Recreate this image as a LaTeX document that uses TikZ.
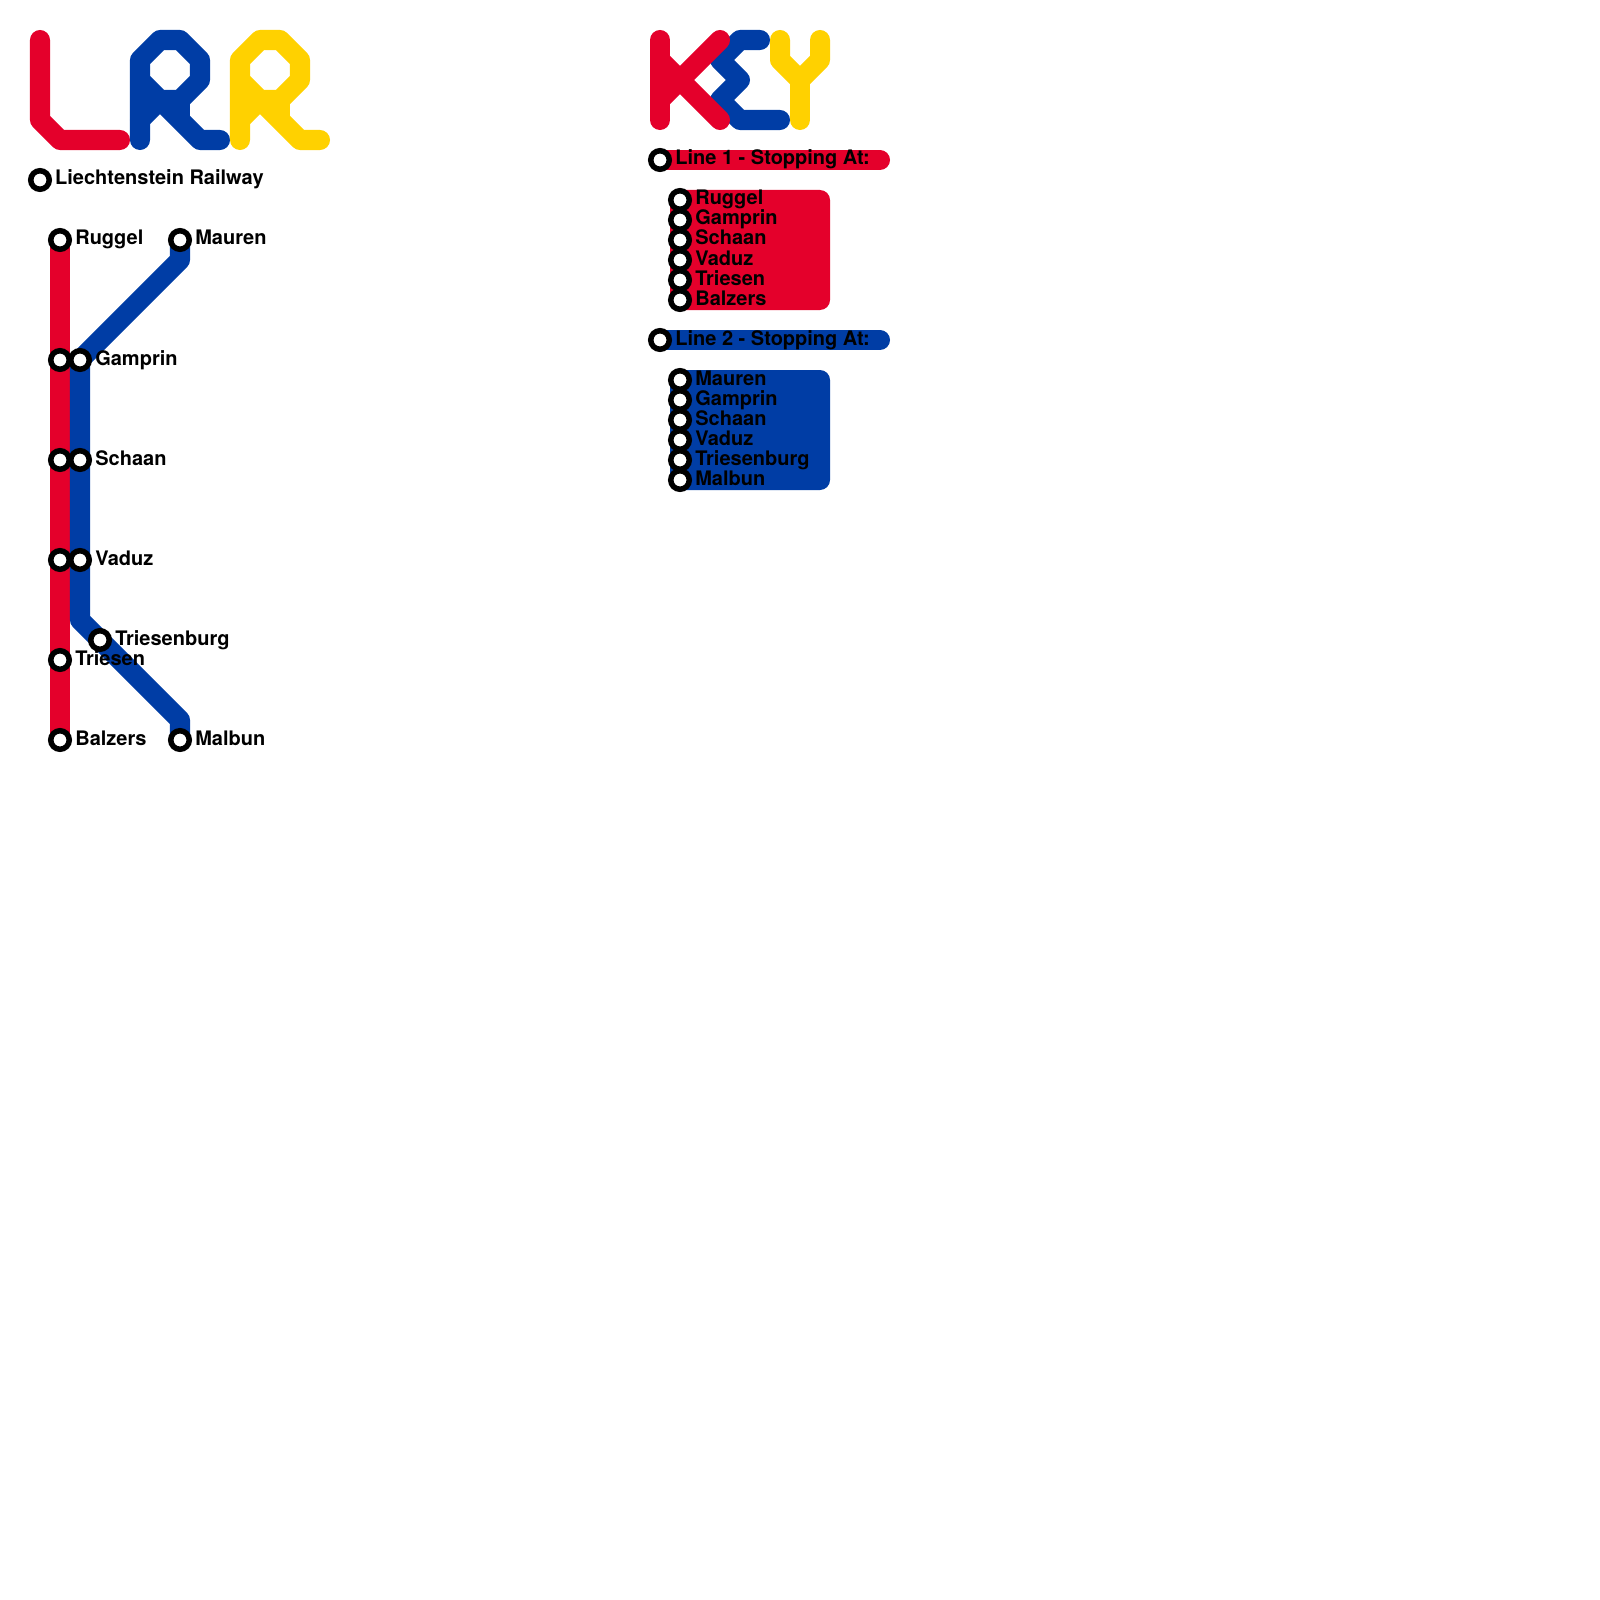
\documentclass[tikz,border=0pt]{standalone}
\usepackage{fontspec}
\setmainfont{TeX Gyre Heros}
\definecolor{lred}{HTML}{E4002B}
\definecolor{lblue}{HTML}{003DA5}
\definecolor{lyellow}{HTML}{FFD100}
\tikzset{
  mapgrid/.style={x=0.01cm,y=-0.01cm},
  track/.style={line width=2mm,line join=round},
  letter/.style={line width=2mm,line join=round,line cap=round},
  stn/.style={circle,draw=black,fill=white,line width=0.55mm,inner sep=0pt,minimum size=1.85mm},
  stnlabel/.style={anchor=base west,inner sep=0pt,font=\fontsize{5.69pt}{6pt}\selectfont\bfseries},
}
\begin{document}
\begin{tikzpicture}[mapgrid]
    \useasboundingbox (0,0) rectangle (1600,1600);
    % title letters
    \draw[letter,lred] (40,40) -- (40,120) -- (60,140) -- (120,140);
    \foreach \c/\d in {lblue/0,lyellow/100} {
      \draw[letter,\c] ({140+\d},140) -- ({140+\d},60) -- ({160+\d},40) -- ({180+\d},40) -- ({200+\d},60) -- ({200+\d},80) -- ({180+\d},100) -- ({160+\d},100) -- ({140+\d},80);
      \draw[letter,\c] ({140+\d},120) -- ({160+\d},100) -- ({200+\d},140) -- ({220+\d},140);
      \draw[track,\c] ({180+\d},100) -- ({180+\d},120);
    }
    % key letters
    \draw[letter,lblue] (760,40) -- (740,40) -- (720,60) -- (740,80) -- (720,100) -- (740,120) -- (780,120);
    \draw[letter,lred] (660,40) -- (660,120);
    \draw[letter,lred] (660,60) -- (680,80) -- (660,100);
    \draw[letter,lred] (720,40) -- (680,80) -- (720,120);
    \draw[letter,lyellow] (780,40) -- (780,60) -- (800,80) -- (820,60) -- (820,40);
    \draw[letter,lyellow] (800,80) -- (800,120);
    % lines
    \coordinate (ruggel) at (60,240);
    \coordinate (balzers) at (60,740);
    \coordinate (mauren) at (180,240);
    \coordinate (malbun) at (180,740);
    \draw[track,lred] (ruggel) -- (balzers);
    \draw[track,lblue] (mauren) -- (180,260) -- (80,360) -- (80,620) -- (180,720) -- (malbun);
    % key blocks
    \foreach \c/\y in {lred/160,lblue/340} {
      \draw[letter,\c] (660,\y) -- (880,\y);
      \fill[\c,rounded corners=1mm] (670,{\y+30}) rectangle (830,{\y+150});
    }
    % stations
    \node[stn] (title) at (40,180) {};
    \node[stnlabel] (titletext) at (54.5,185) {Liechtenstein Railway};
    \foreach \nm/\x/\y/\txt in {
      ruggel/60/240/Ruggel,mauren/180/240/Mauren,gamprin/80/360/Gamprin,
      schaan/80/460/Schaan,vaduz/80/560/Vaduz,triesenburg/100/640/Triesenburg,
      triesen/60/660/Triesen,balzers/60/740/Balzers,malbun/180/740/Malbun} {
      \node[stn] (\nm) at (\x,\y) {};
      \node[stnlabel] (\nm-text) at ({\x+14.6},{\y+5}) {\txt};
    }
    \foreach \y in {360,460,560} \node[stn] (red\y) at (60,\y) {};
    % key stations
    \node[stn] (keyone) at (660,160) {};
    \node[stnlabel] (keyonetext) at (674.6,165) {Line 1 - Stopping At:};
    \node[stn] (keytwo) at (660,340) {};
    \node[stnlabel] (keytwotext) at (674.6,345) {Line 2 - Stopping At:};
    \foreach \txt [count=\i] in {Ruggel,Gamprin,Schaan,Vaduz,Triesen,Balzers} {
      \node[stn] (one\i) at (680,{180+20*\i}) {};
      \node[stnlabel] (one\i-text) at (694.6,{185+20*\i}) {\txt};
    }
    \foreach \txt [count=\i] in {Mauren,Gamprin,Schaan,Vaduz,Triesenburg,Malbun} {
      \node[stn] (two\i) at (680,{360+20*\i}) {};
      \node[stnlabel] (two\i-text) at (694.6,{365+20*\i}) {\txt};
    }
  \end{tikzpicture}
\end{document}
